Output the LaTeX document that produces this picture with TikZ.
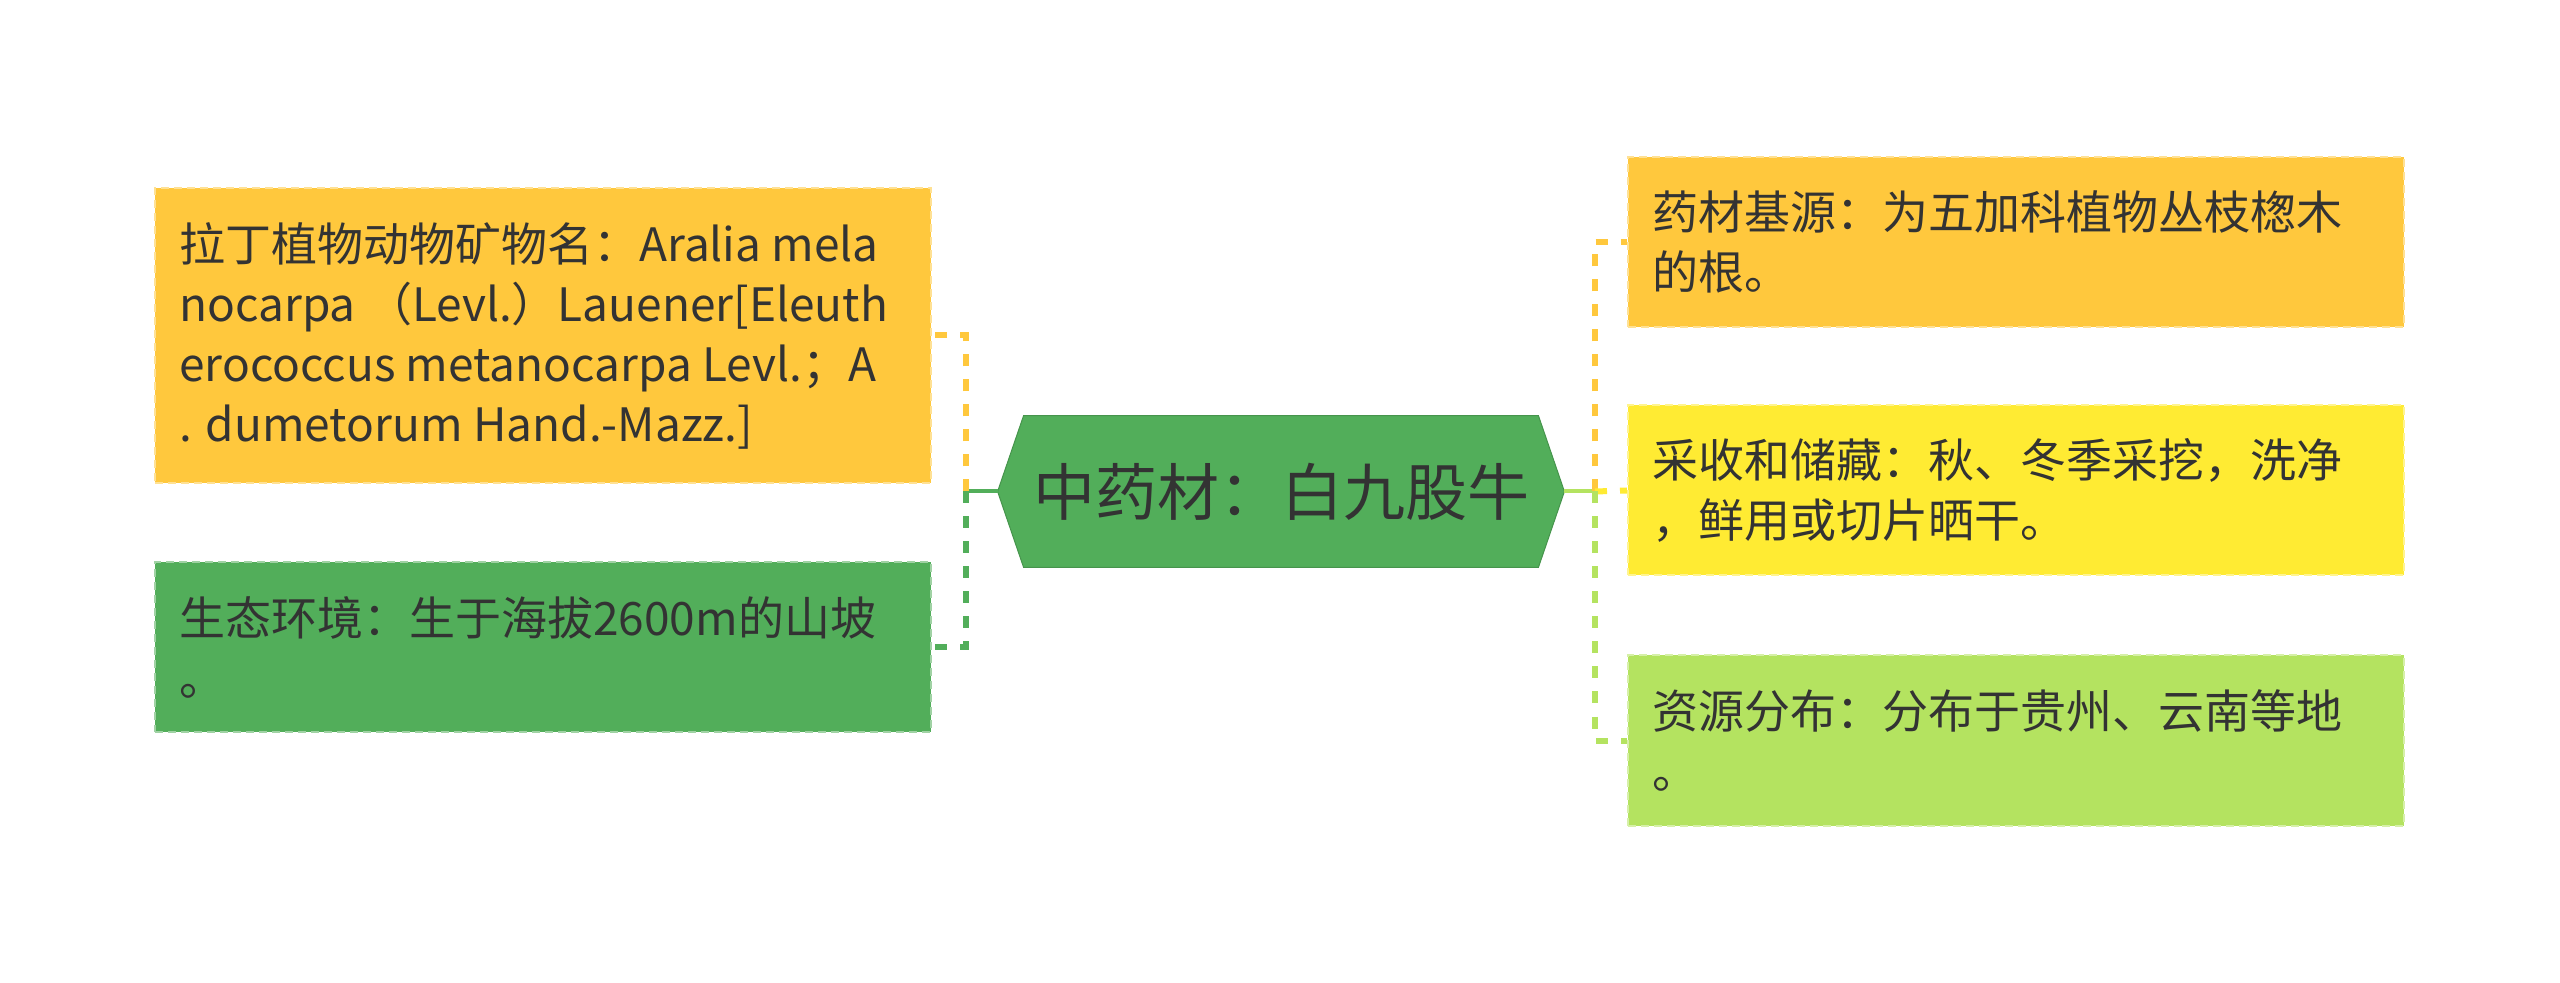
\documentclass[tikz,border=0pt]{standalone}
\usepackage{fontspec}
\setmainfont{Noto Sans CJK SC}
\usetikzlibrary{backgrounds}
\definecolor{cOrange}{HTML}{FFC83D}
\definecolor{cGreen}{HTML}{52AE5A}
\definecolor{cYellow}{HTML}{FFEB33}
\definecolor{cLGreen}{HTML}{B4E360}
\definecolor{cText}{HTML}{333333}
\begin{document}
\begin{tikzpicture}[x=0.5pt,y=-0.5pt,
  box/.style={rectangle, minimum width=388pt, minimum height=85pt, inner sep=0pt,
    fill=#1, draw=#1!55!white, line width=1pt, dash pattern=on 4pt off 2.5pt},
  txt/.style={anchor=west, align=left, inner sep=0pt, text=cText,
    font=\fontsize{23pt}{30pt}\selectfont},
  solidconn/.style={line width=2pt},
  dconn/.style={line width=3pt, dash pattern=on 6pt off 6.5pt}]
\useasboundingbox (0,0) rectangle (2560,983);

% left boxes
\node[box=cOrange, minimum height=147.5pt] (L1) at (543,335.5) {};
\node[txt] (L1t) at ([xshift=12.5pt]L1.west) {拉丁植物动物矿物名：Aralia mela\\nocarpa （Levl.）Lauener[Eleuth\\erococcus metanocarpa Levl.；A\\. dumetorum Hand.-Mazz.]};
\node[box=cGreen] (L2) at (543,647) {};
\node[txt] (L2t) at ([xshift=12.5pt]L2.west) {生态环境：生于海拔2600m的山坡\\。};

% right boxes
\node[box=cOrange] (R1) at (2016,242) {};
\node[txt] (R1t) at ([xshift=12.5pt]R1.west) {药材基源：为五加科植物丛枝楤木\\的根。};
\node[box=cYellow] (R2) at (2016,490.5) {};
\node[txt] (R2t) at ([xshift=12.5pt]R2.west) {采收和储藏：秋、冬季采挖，洗净\\，鲜用或切片晒干。};
\node[box=cLGreen] (R3) at (2016,740.5) {};
\node[txt] (R3t) at ([xshift=12.5pt]R3.west) {资源分布：分布于贵州、云南等地\\。};

% center
\node[rectangle, minimum width=283pt, minimum height=75.5pt, inner sep=0pt,
  text=cText, font=\fontsize{31pt}{36pt}\selectfont] (C) at (1281,491.5) {中药材：白九股牛};
\begin{scope}[on background layer]
\fill[cGreen, draw=cGreen!85!black, line width=0.5pt]
  (C.west) -- ([xshift=13pt]C.north west) -- ([xshift=-13pt]C.north east) -- (C.east)
  -- ([xshift=-13pt]C.south east) -- ([xshift=13pt]C.south west) -- cycle;
\end{scope}

% connectors
\coordinate (LT) at (966,491.5);
\coordinate (RT) at (1595,491.5);
\draw[solidconn, cGreen] (C.west) -- (LT);
\draw[dconn, cOrange] (LT) |- (L1.east);
\draw[dconn, cGreen] (LT) |- (L2.east);
\draw[solidconn, cLGreen] (C.east) -- (RT);
\draw[dconn, cOrange] (RT) |- (R1.west);
\draw[dconn, cYellow] (RT) -- (R2.west);
\draw[dconn, cLGreen] (RT) |- (R3.west);
\end{tikzpicture}
\end{document}
